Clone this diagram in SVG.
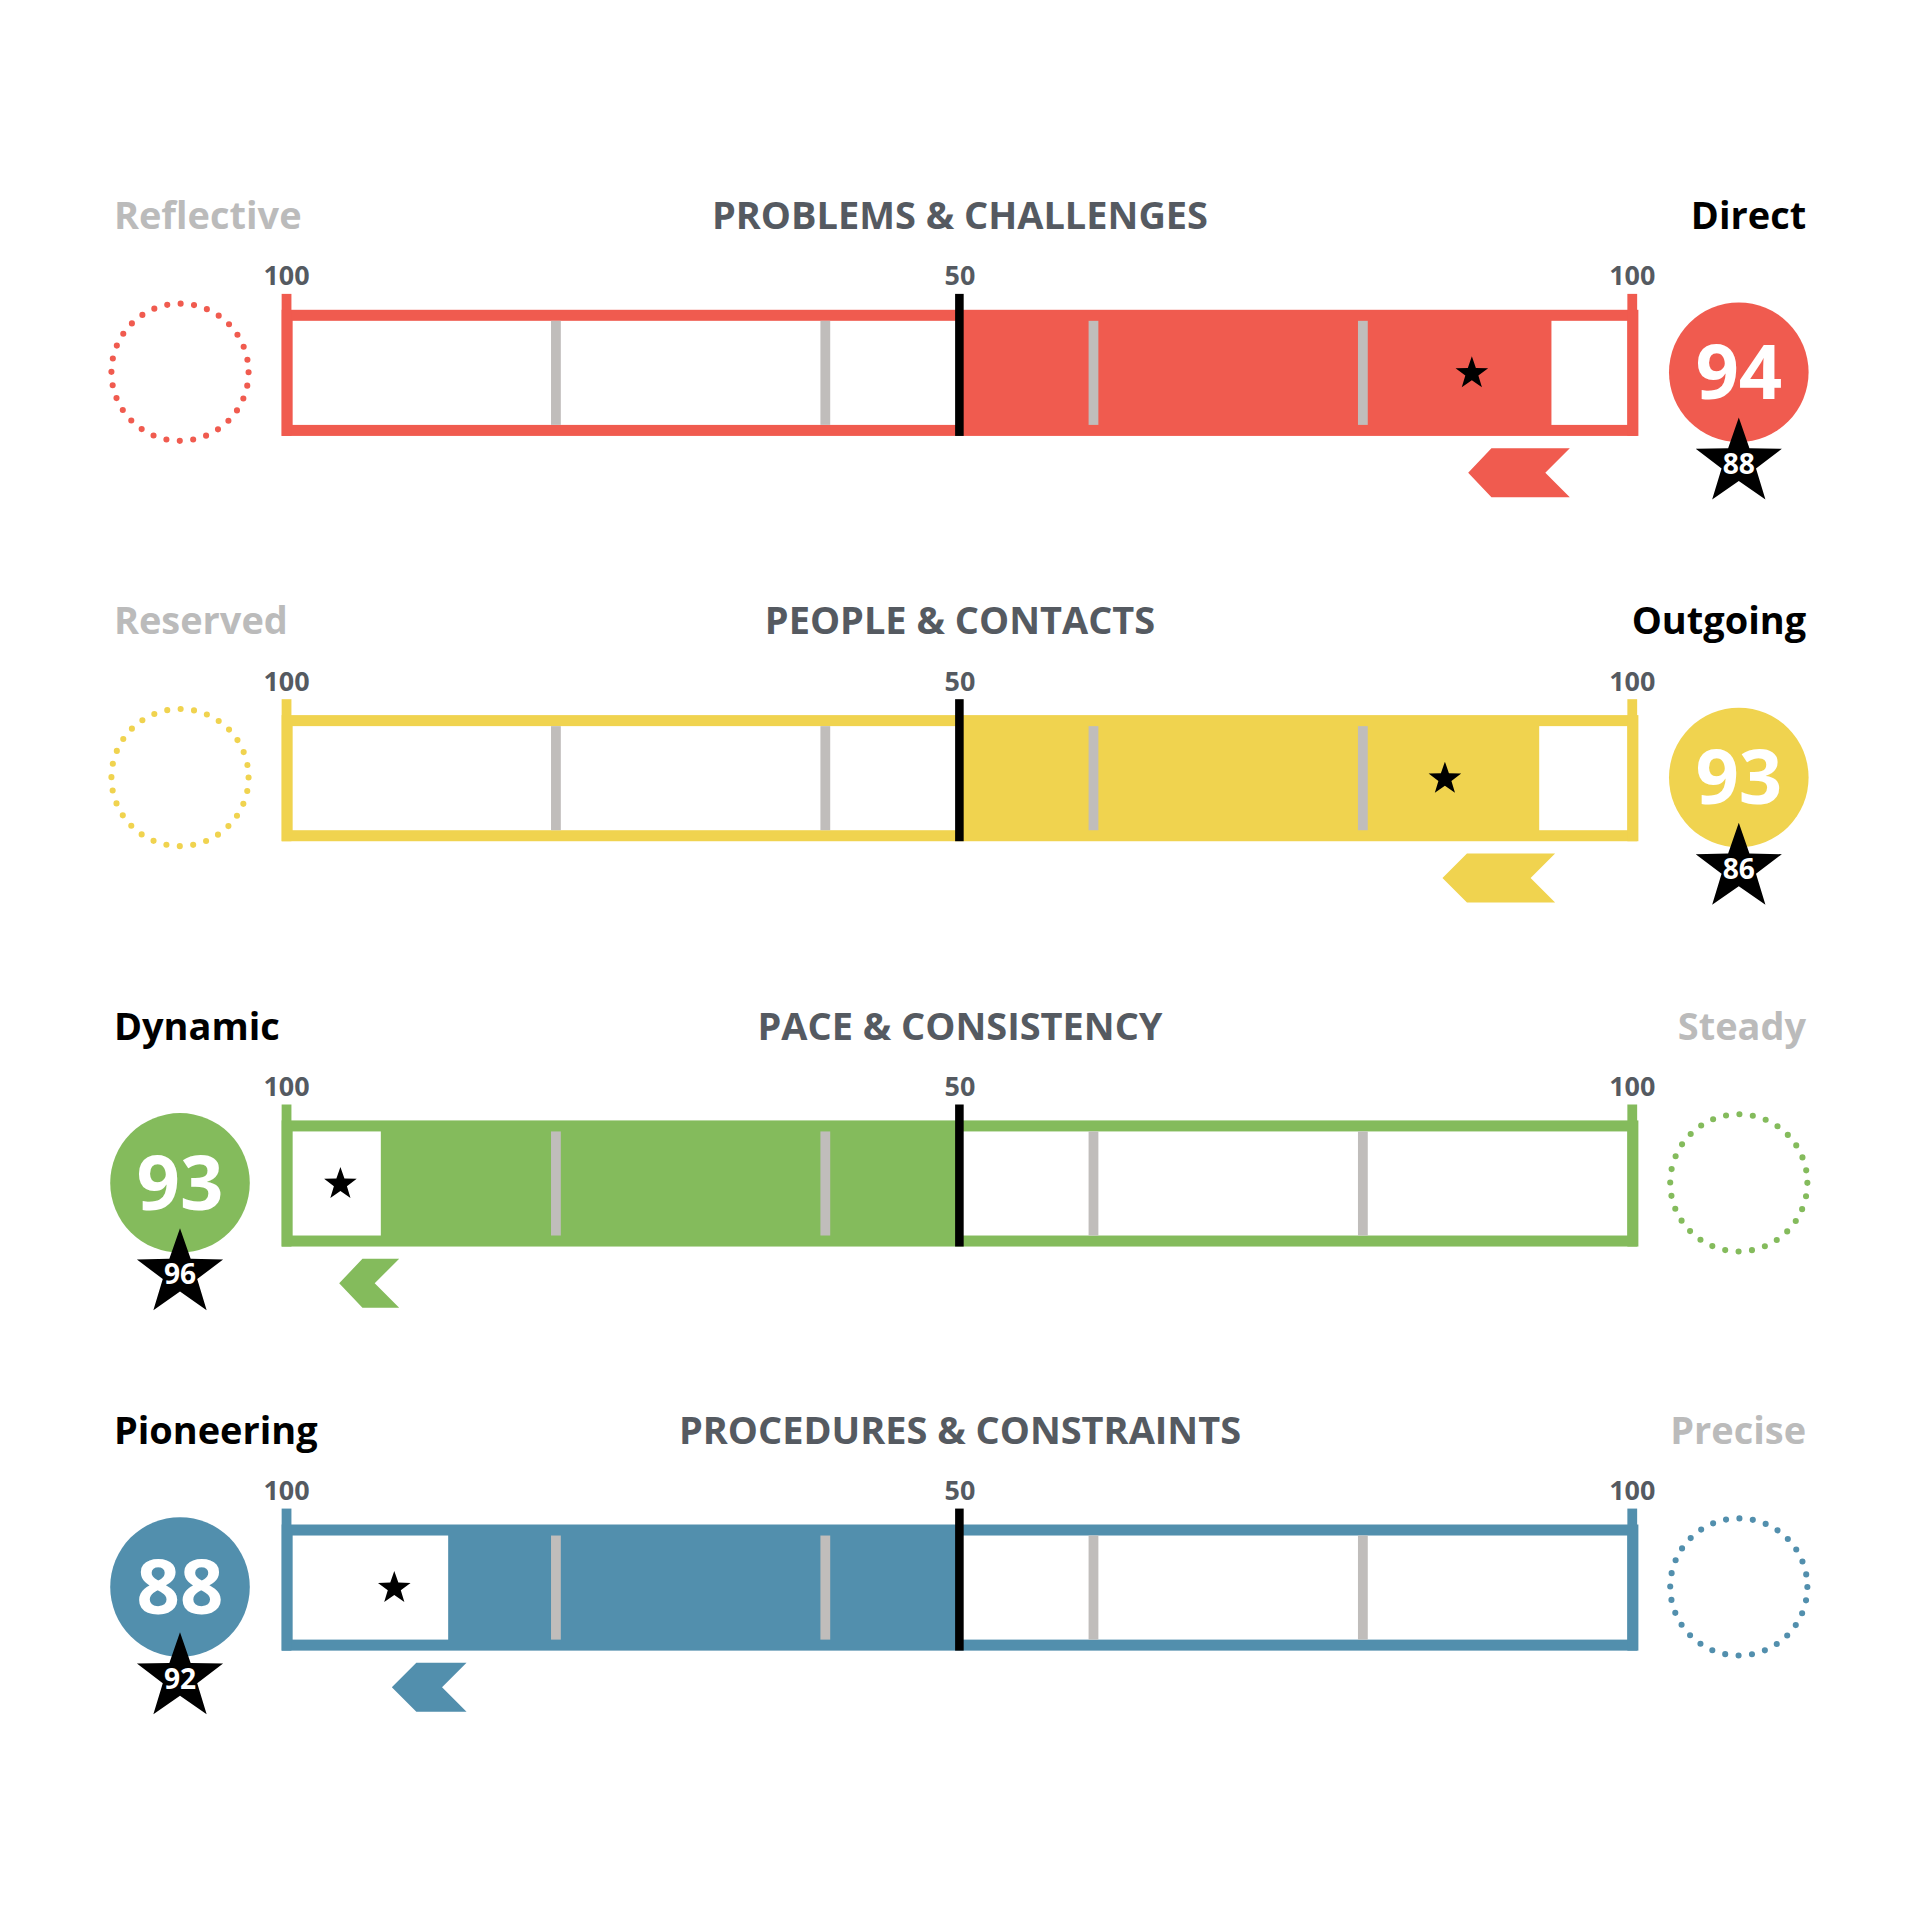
<svg xmlns="http://www.w3.org/2000/svg" xmlns:xlink="http://www.w3.org/1999/xlink" width="1920" height="1920" viewBox="0 0 1920 1920">
<style>
text{font-family:"Open Sans","Liberation Sans",sans-serif;font-weight:bold}
.lbl{font-size:31px}
.title{font-size:31px;fill:#555a61;text-anchor:middle}
.sc{font-size:22px;fill:#555a61;text-anchor:middle}
.on{fill:#000}
.off{fill:#bbbbbb}
.tick{fill:#c0bdbb}
.mid{fill:#000}
.big{font-size:62px;fill:#fff;text-anchor:middle}
.sm{font-size:23px;fill:#fff;text-anchor:middle}
.dot{fill:none;stroke-width:5;stroke-linecap:round;stroke-dasharray:0 11}
</style>
<defs>
<path id="star" d="M0,-1 L0.235,-0.324 L0.951,-0.309 L0.38,0.124 L0.588,0.809 L0,0.4 L-0.588,0.809 L-0.38,0.124 L-0.951,-0.309 L-0.235,-0.324Z"/>
</defs>
<g transform="scale(1.2245)">
<g id="row-problems">
<text class="lbl off" x="93" y="187">Reflective</text>
<text class="title" x="784" y="187">PROBLEMS &amp; CHALLENGES</text>
<text class="lbl on" x="1475" y="187" text-anchor="end">Direct</text>
<text class="sc" x="234" y="233">100</text><text class="sc" x="784" y="233">50</text><text class="sc" x="1333" y="233">100</text>
<rect x="230" y="253" width="1108" height="103" fill="#f05b4f"/>
<rect x="239" y="262" width="545" height="85" fill="#fff"/>
<rect x="1267" y="262" width="62" height="85" fill="#fff"/>
<rect x="230" y="240" width="8" height="116" fill="#f05b4f"/><rect x="1329" y="240" width="8" height="116" fill="#f05b4f"/>
<rect class="tick" x="450" y="262" width="8" height="85"/><rect class="tick" x="670" y="262" width="8" height="85"/><rect class="tick" x="889" y="262" width="8" height="85"/><rect class="tick" x="1109" y="262" width="8" height="85"/>
<rect class="mid" x="780" y="240" width="7" height="116"/>
<use href="#star" transform="translate(1202,305) scale(14)"/>
<polygon points="1218,366 1282,366 1262,386 1282,406 1218,406 1199,386" fill="#f05b4f"/>
<circle cx="147" cy="304" r="56" class="dot" stroke="#f05b4f"/>
<circle cx="1420" cy="304" r="57" fill="#f05b4f"/>
<text class="big" x="1420" y="326">94</text>
<use href="#star" transform="translate(1420,378) scale(37)"/>
<text class="sm" x="1420" y="387">88</text>
</g>
<g id="row-people" transform="translate(0,331)">
<text class="lbl off" x="93" y="187">Reserved</text>
<text class="title" x="784" y="187">PEOPLE &amp; CONTACTS</text>
<text class="lbl on" x="1475" y="187" text-anchor="end">Outgoing</text>
<text class="sc" x="234" y="233">100</text><text class="sc" x="784" y="233">50</text><text class="sc" x="1333" y="233">100</text>
<rect x="230" y="253" width="1108" height="103" fill="#f0d34f"/>
<rect x="239" y="262" width="545" height="85" fill="#fff"/>
<rect x="1257" y="262" width="72" height="85" fill="#fff"/>
<rect x="230" y="240" width="8" height="116" fill="#f0d34f"/><rect x="1329" y="240" width="8" height="116" fill="#f0d34f"/>
<rect class="tick" x="450" y="262" width="8" height="85"/><rect class="tick" x="670" y="262" width="8" height="85"/><rect class="tick" x="889" y="262" width="8" height="85"/><rect class="tick" x="1109" y="262" width="8" height="85"/>
<rect class="mid" x="780" y="240" width="7" height="116"/>
<use href="#star" transform="translate(1180,305) scale(14)"/>
<polygon points="1198,366 1270,366 1250,386 1270,406 1198,406 1178,386" fill="#f0d34f"/>
<circle cx="147" cy="304" r="56" class="dot" stroke="#f0d34f"/>
<circle cx="1420" cy="304" r="57" fill="#f0d34f"/>
<text class="big" x="1420" y="326">93</text>
<use href="#star" transform="translate(1420,378) scale(37)"/>
<text class="sm" x="1420" y="387">86</text>
</g>
<g id="row-pace" transform="translate(0,662)">
<text class="lbl on" x="93" y="187">Dynamic</text>
<text class="title" x="784" y="187">PACE &amp; CONSISTENCY</text>
<text class="lbl off" x="1475" y="187" text-anchor="end">Steady</text>
<text class="sc" x="234" y="233">100</text><text class="sc" x="784" y="233">50</text><text class="sc" x="1333" y="233">100</text>
<rect x="230" y="253" width="1108" height="103" fill="#84bb5c"/>
<rect x="239" y="262" width="72" height="85" fill="#fff"/>
<rect x="784" y="262" width="545" height="85" fill="#fff"/>
<rect x="230" y="240" width="8" height="116" fill="#84bb5c"/><rect x="1329" y="240" width="8" height="116" fill="#84bb5c"/>
<rect class="tick" x="450" y="262" width="8" height="85"/><rect class="tick" x="670" y="262" width="8" height="85"/><rect class="tick" x="889" y="262" width="8" height="85"/><rect class="tick" x="1109" y="262" width="8" height="85"/>
<rect class="mid" x="780" y="240" width="7" height="116"/>
<use href="#star" transform="translate(278,305) scale(14)"/>
<polygon points="296,366 326,366 306,386 326,406 296,406 277,386" fill="#84bb5c"/>
<circle cx="1420" cy="304" r="56" class="dot" stroke="#84bb5c"/>
<circle cx="147" cy="304" r="57" fill="#84bb5c"/>
<text class="big" x="147" y="326">93</text>
<use href="#star" transform="translate(147,378) scale(37)"/>
<text class="sm" x="147" y="387">96</text>
</g>
<g id="row-procedures" transform="translate(0,992)">
<text class="lbl on" x="93" y="187">Pioneering</text>
<text class="title" x="784" y="187">PROCEDURES &amp; CONSTRAINTS</text>
<text class="lbl off" x="1475" y="187" text-anchor="end">Precise</text>
<text class="sc" x="234" y="233">100</text><text class="sc" x="784" y="233">50</text><text class="sc" x="1333" y="233">100</text>
<rect x="230" y="253" width="1108" height="103" fill="#528fad"/>
<rect x="239" y="262" width="127" height="85" fill="#fff"/>
<rect x="784" y="262" width="545" height="85" fill="#fff"/>
<rect x="230" y="240" width="8" height="116" fill="#528fad"/><rect x="1329" y="240" width="8" height="116" fill="#528fad"/>
<rect class="tick" x="450" y="262" width="8" height="85"/><rect class="tick" x="670" y="262" width="8" height="85"/><rect class="tick" x="889" y="262" width="8" height="85"/><rect class="tick" x="1109" y="262" width="8" height="85"/>
<rect class="mid" x="780" y="240" width="7" height="116"/>
<use href="#star" transform="translate(322,305) scale(14)"/>
<polygon points="340,366 381,366 361,386 381,406 340,406 320,386" fill="#528fad"/>
<circle cx="1420" cy="304" r="56" class="dot" stroke="#528fad"/>
<circle cx="147" cy="304" r="57" fill="#528fad"/>
<text class="big" x="147" y="326">88</text>
<use href="#star" transform="translate(147,378) scale(37)"/>
<text class="sm" x="147" y="387">92</text>
</g>
</g>
</svg>
